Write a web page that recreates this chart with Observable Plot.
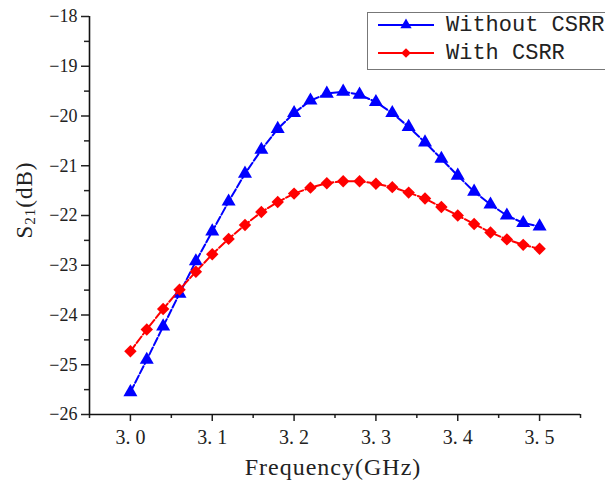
<!DOCTYPE html>
<html>
<head>
<meta charset="utf-8">
<script src="https://cdn.jsdelivr.net/npm/d3@7"></script>
<script src="https://cdn.jsdelivr.net/npm/@observablehq/plot@0.6"></script>
<style>
  html, body { margin: 0; padding: 0; background: white; }
  #wrap { position: relative; width: 605px; height: 486px; overflow: hidden; }
  #ylab { position: absolute; left: 25px; top: 200px; transform: translate(-50%, -50%) rotate(-90deg);
          font-family: "Liberation Serif", serif; font-size: 23px; letter-spacing: 1px; color: #222; white-space: nowrap; }
  #ylab sub { font-size: 15px; vertical-align: -3px; }
  #xlab { position: absolute; left: 333px; top: 467px; transform: translate(-50%, -50%);
          font-family: "Liberation Serif", serif; font-size: 24px; letter-spacing: 1px; color: #222; white-space: nowrap; }
  #legend { position: absolute; left: 367px; top: 12px; width: 260px; height: 58px;
            border: 1.3px solid #777; background: white; box-sizing: border-box; }
</style>
</head>
<body>
<div id="wrap">
  <div id="chart"></div>
  <div id="ylab">S<sub>21</sub>(dB)</div>
  <div id="xlab"></div>
  <div id="legend"></div>
</div>
<script>
const freq = [3.00, 3.02, 3.04, 3.06, 3.08, 3.10, 3.12, 3.14, 3.16, 3.18, 3.20, 3.22, 3.24,
              3.26, 3.28, 3.30, 3.32, 3.34, 3.36, 3.38, 3.40, 3.42, 3.44, 3.46, 3.48, 3.50];
const withoutCSRR = [-25.55, -24.90, -24.23, -23.57, -22.92, -22.32, -21.72, -21.16, -20.68, -20.26,
                     -19.94, -19.69, -19.55, -19.51, -19.57, -19.72, -19.94, -20.22, -20.53, -20.86,
                     -21.20, -21.52, -21.78, -22.00, -22.15, -22.22];
const withCSRR = [-24.73, -24.29, -23.88, -23.49, -23.13, -22.78, -22.47, -22.19, -21.93, -21.73,
                  -21.56, -21.44, -21.35, -21.31, -21.31, -21.36, -21.43, -21.54, -21.66, -21.83,
                  -22.00, -22.17, -22.34, -22.48, -22.59, -22.67];
const seriesNames = ["Without CSRR", "With CSRR"];
const xTicks = [3.0, 3.1, 3.2, 3.3, 3.4, 3.5];
const xMinor = [2.95, 3.05, 3.15, 3.25, 3.35, 3.45, 3.55];
const yTicks = [-26, -25, -24, -23, -22, -21, -20, -19, -18];
const yMinor = [-25.5, -24.5, -23.5, -22.5, -21.5, -20.5, -19.5, -18.5];
const xLabel = "Frequency(GHz)";

const blue = "#0000ff", red = "#ff0000";
const dBlue = freq.map((f, i) => ({f, v: withoutCSRR[i]}));
const dRed = freq.map((f, i) => ({f, v: withCSRR[i]}));

const chart = Plot.plot({
  width: 605, height: 486,
  marginLeft: 89, marginRight: 25, marginTop: 16, marginBottom: 72,
  style: {fontFamily: "Liberation Serif, serif", color: "#222", background: "white", overflow: "visible"},
  x: {domain: [2.95, 3.55]},
  y: {domain: [-26, -18]},
  marks: [
    Plot.axisY(yTicks, {tickSize: 8, tickPadding: 4, fontSize: 18, label: null,
      tickFormat: d => "\u2212" + Math.abs(d), strokeWidth: 1.5}),
    Plot.axisY(yMinor, {tickSize: 5, tickFormat: () => "", label: null, strokeWidth: 1.5}),
    Plot.axisX(xTicks, {tickSize: 7, tickPadding: 8, fontSize: 20, label: null,
      tickFormat: d => d.toFixed(1).replace(".", ". "), strokeWidth: 1.5}),
    Plot.axisX(xMinor, {tickSize: 4, tickFormat: () => "", label: null, strokeWidth: 1.5}),
    Plot.ruleX([2.95], {stroke: "#111", strokeWidth: 1.6}),
    Plot.ruleY([-26], {stroke: "#111", strokeWidth: 1.6}),
    Plot.line(dBlue, {x: "f", y: "v", stroke: blue, strokeWidth: 2, strokeDasharray: "8,2.5"}),
    Plot.dot(dBlue, {x: "f", y: "v", symbol: "triangle", fill: blue, r: 5.2}),
    Plot.line(dRed, {x: "f", y: "v", stroke: red, strokeWidth: 2, strokeDasharray: "8,2.5"}),
    Plot.dot(dRed, {x: "f", y: "v", symbol: d3.symbolDiamond2, fill: red, r: 5.6})
  ]
});
document.getElementById("chart").appendChild(chart);
document.getElementById("xlab").textContent = xLabel;

// legend
const ns = "http://www.w3.org/2000/svg";
const lsvg = document.createElementNS(ns, "svg");
lsvg.setAttribute("width", 260); lsvg.setAttribute("height", 58);
const rows = [{name: seriesNames[0], color: blue, sym: d3.symbolTriangle, size: 55},
              {name: seriesNames[1], color: red, sym: d3.symbolDiamond2, size: 60}];
rows.forEach((r, i) => {
  const cy = 12 + i * 28;
  const ln = document.createElementNS(ns, "line");
  ln.setAttribute("x1", 10); ln.setAttribute("x2", 66);
  ln.setAttribute("y1", cy); ln.setAttribute("y2", cy);
  ln.setAttribute("stroke", r.color); ln.setAttribute("stroke-width", 2);
  lsvg.appendChild(ln);
  const p = document.createElementNS(ns, "path");
  p.setAttribute("d", d3.symbol(r.sym, r.size)());
  p.setAttribute("transform", `translate(38,${cy})`);
  p.setAttribute("fill", r.color);
  lsvg.appendChild(p);
  const tx = document.createElementNS(ns, "text");
  tx.setAttribute("x", 78); tx.setAttribute("y", cy);
  tx.setAttribute("dominant-baseline", "central");
  tx.setAttribute("font-family", "Liberation Mono, monospace");
  tx.setAttribute("font-size", 22);
  tx.setAttribute("fill", "#222");
  tx.textContent = r.name;
  lsvg.appendChild(tx);
});
document.getElementById("legend").appendChild(lsvg);
</script>
</body>
</html>
